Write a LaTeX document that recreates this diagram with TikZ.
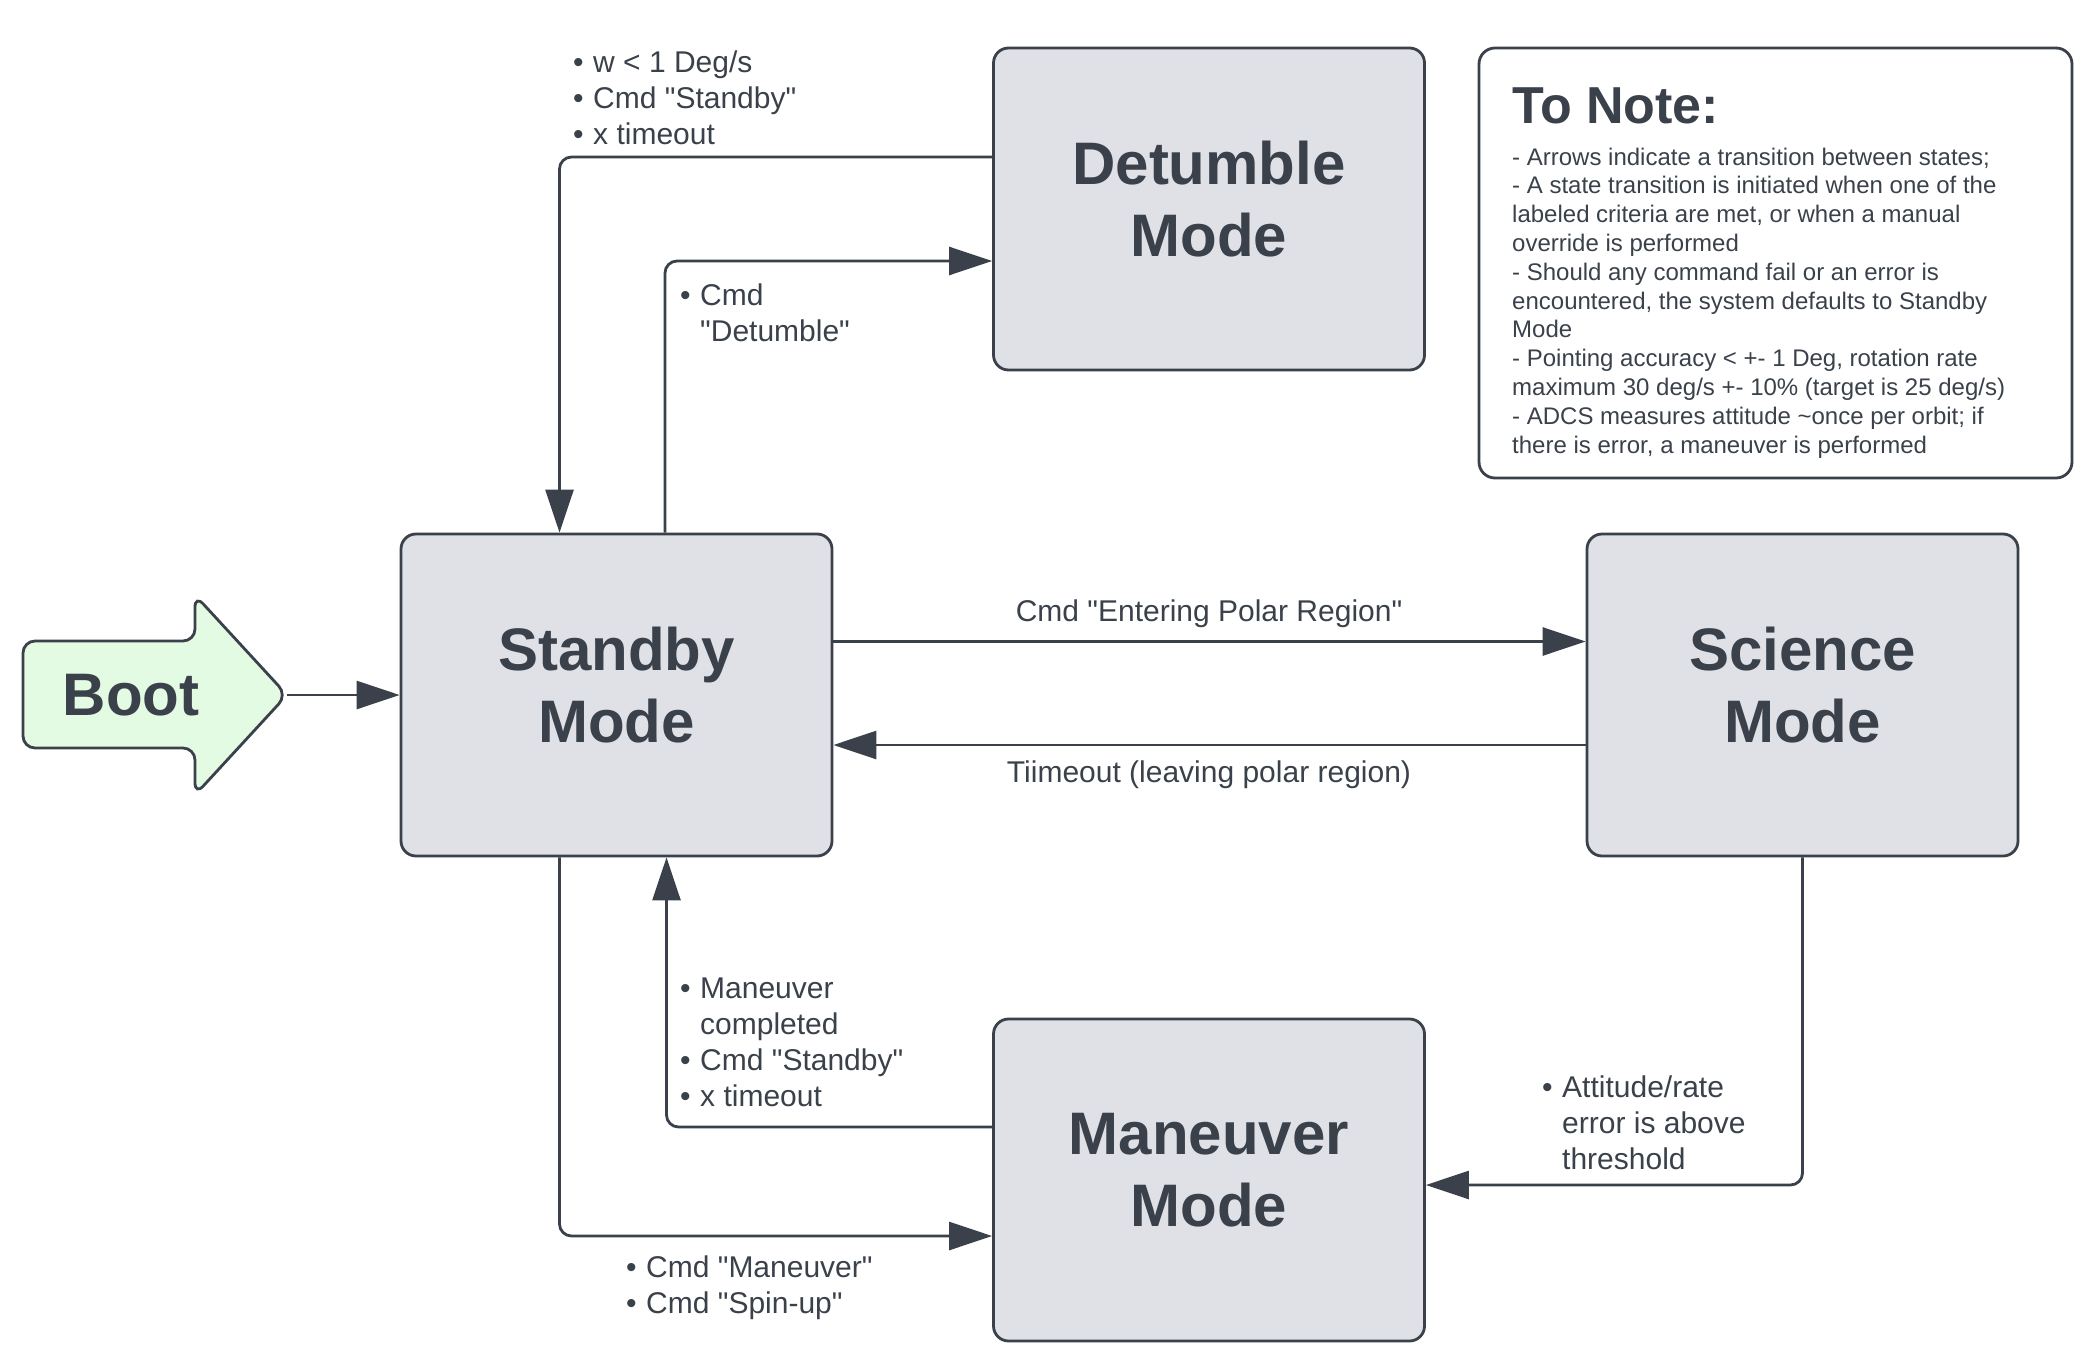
\documentclass[tikz,border=0pt]{standalone}
\usepackage{fontspec}
\newfontfamily\lucid{Liberation Sans}
\usepackage{tikz}
\usetikzlibrary{arrows.meta,calc}
\definecolor{ink}{RGB}{58,65,74}
\definecolor{panel}{RGB}{223,225,230}
\definecolor{mint}{RGB}{227,250,227}
\newcommand\modetext{\lucid\fontsize{60}{72}\selectfont\bfseries}
\newcommand\crittext{\lucid\fontsize{30}{36}\selectfont}
\newcommand\notetext{\lucid\fontsize{24}{28.8}\selectfont}
\newcommand\bul{\makebox[20pt][l]{\textbullet}}
\newcommand\ind{\hspace*{20pt}}
\tikzset{
  modebox/.style={draw=ink,fill=panel,line width=2.8pt,rounded corners=15pt,
    minimum width=431pt,minimum height=322pt,align=center,text=ink,font=\modetext,
    text depth=20pt},
  flow/.style={line width=2.8pt,ink,rounded corners=12pt,-{Triangle[length=43pt,width=28pt]}},
  crit/.style={font=\crittext,text=ink,align=left,inner sep=0pt,anchor=base west},
  guard/.style={font=\crittext,text=ink,inner sep=0pt,anchor=base},
  notebox/.style={draw=ink,line width=2.8pt,rounded corners=16pt,
    minimum width=593pt,minimum height=430pt},
  bootarrow/.style={draw=ink,fill=mint,line width=2.8pt,rounded corners=12pt}
}
\begin{document}
\begin{tikzpicture}[x=1pt,y=-1pt]
  \useasboundingbox (0,0) rectangle (2087,1367);
  \node (standby) [modebox] at (616.5,695) {Standby\\Mode};
  \node (detumble) [modebox] at (1209,209) {Detumble\\Mode};
  \node (science) [modebox] at (1802.5,695) {Science\\Mode};
  \node (maneuver) [modebox] at (1209,1180) {Maneuver\\Mode};

  \draw[bootarrow] (23,641) -- (195,641) -- (195,595) -- (287,695)
    -- (195,795) -- (195,748) -- (23,748) -- cycle;
  \coordinate (boottip) at (287,695);
  \node (boot) [font=\modetext,text=ink] at (131,695) {Boot};

  \node (notes) [notebox] at (1775.5,263) {};
  \node (notetitle) [font=\lucid\fontsize{52}{60}\selectfont\bfseries,text=ink,inner sep=0pt,anchor=base west]
    at (1512,124) {To Note:};
  \node (notebody) [font=\notetext,text=ink,align=left,inner sep=0pt,anchor=base west] at (1512,453)
    {- Arrows indicate a transition between states;\\
     - A state transition is initiated when one of the\\
     labeled criteria are met, or when a manual\\
     override is performed\\
     - Should any command fail or an error is\\
     encountered, the system defaults to Standby\\
     Mode\\
     - Pointing accuracy < +- 1 Deg, rotation rate\\
     maximum 30 deg/s +- 10\% (target is 25 deg/s)\\
     - ADCS measures attitude \textasciitilde once per orbit; if\\
     there is error, a maneuver is performed};

  \draw[flow] (boottip) -- (standby.west);
  \draw[flow] ([yshift=52pt]detumble.west) -| ([xshift=-57pt]standby.north);
  \draw[flow] ([xshift=48.5pt]standby.north) |- ([yshift=-52pt]detumble.west);
  \draw[flow] ([yshift=53.5pt]standby.east) -- ([yshift=53.5pt]science.west);
  \draw[flow] ([yshift=-50pt]science.west) -- ([yshift=-50pt]standby.east);
  \draw[flow] ([xshift=-57pt]standby.south) |- ([yshift=-56pt]maneuver.west);
  \draw[flow] ([yshift=53pt]maneuver.west) -| ([xshift=50pt]standby.south);
  \draw[flow] (science.south) |- ([yshift=-5pt]maneuver.east);

  \node (towait) [crit] at (573,145) {\bul w < 1 Deg/s\\\bul Cmd "Standby"\\\bul x timeout};
  \node (todetumble) [crit] at (680,341) {\bul Cmd\\\ind "Detumble"};
  \node (toscience) [guard] at (1209,621) {Cmd "Entering Polar Region"};
  \node (fromscience) [guard] at (1209,782) {Tiimeout (leaving polar region)};
  \node (frommaneuver) [crit] at (680,1106)
    {\bul Maneuver\\\ind completed\\\bul Cmd "Standby"\\\bul x timeout};
  \node (tomaneuver) [crit] at (626,1313) {\bul Cmd "Maneuver"\\\bul Cmd "Spin-up"};
  \node (attitude) [crit] at (1542,1169)
    {\bul Attitude/rate\\\ind error is above\\\ind threshold};
\end{tikzpicture}
\end{document}
